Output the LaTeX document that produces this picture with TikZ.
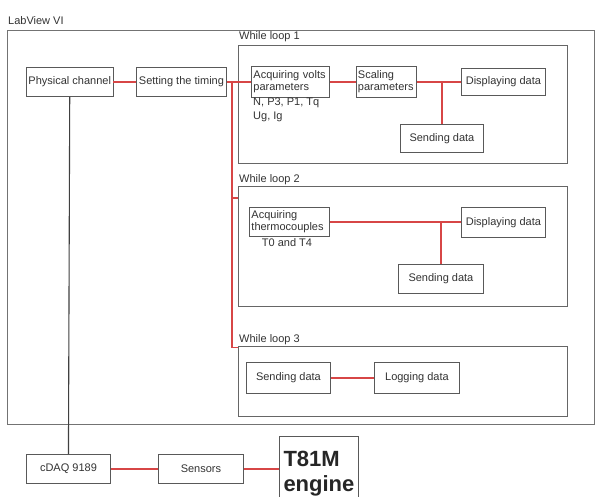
\documentclass[tikz,border=0pt]{standalone}
\usepackage{fontspec}
\setmainfont{Liberation Sans}
\usetikzlibrary{calc}
\begin{document}
\begin{tikzpicture}[x=1pt,y=-1pt,
  box/.style={draw=black!65, line width=0.9pt, inner sep=2pt, anchor=north west,
    font=\fontsize{11}{12}\selectfont, text=black!80},
  loopbox/.style={draw=black!60, line width=1pt, anchor=north west, inner sep=0pt},
  lbl/.style={anchor=west, inner sep=0pt, font=\fontsize{11}{12}\selectfont, text=black!80},
  wire/.style={draw={rgb,255:red,215;green,70;blue,70}, line width=1.2pt},
  bwire/.style={draw=black!75, line width=1.1pt}]
\useasboundingbox (0,0) rectangle (596,496);
\clip (0,0) rectangle (596,496);
\fill[white] (0,0) rectangle (596,496);

% outer LabView VI frame
\node[loopbox, draw=black!55, line width=1.3pt, minimum width=587pt, minimum height=394pt] (vi) at (7,30) {};
\node[lbl] (vilbl) at (8,21) {LabView VI};

% while loops
\node[loopbox, minimum width=329pt, minimum height=118pt] (loop1) at (238,45) {};
\node[lbl] (l1lbl) at (239,37) {While loop 1};
\node[loopbox, minimum width=329pt, minimum height=120pt] (loop2) at (238,186) {};
\node[lbl] (l2lbl) at (239,180) {While loop 2};
\node[loopbox, minimum width=329pt, minimum height=70pt] (loop3) at (238,346) {};
\node[lbl] (l3lbl) at (239,340) {While loop 3};

% left chain
\node[box, minimum width=84pt, minimum height=29pt] (phys) at (26,67) {Physical channel};
\node[box, minimum width=90pt, minimum height=29pt] (timing) at (136,67) {Setting the timing};

% loop 1
\node[box, text width=74pt, minimum height=31pt, align=left] (acqv) at (251,66) {Acquiring volts\\parameters};
\node[lbl, anchor=north west, align=left, font=\fontsize{11}{14}\selectfont] (acqvt) at (253,98) {N, P3, P1, Tq\\Ug, Ig};
\node[box, text width=57pt, inner xsep=1.5pt, minimum height=31pt, align=left] (scal) at (356,66) {Scaling\\parameters};
\node[box, minimum width=84pt, minimum height=27pt] (disp1) at (461,68) {Displaying data};
\node[box, minimum width=83pt, minimum height=28pt] (send1) at (400,124) {Sending data};

% loop 2
\node[box, text width=76pt, minimum height=29pt, align=left] (acqt) at (249,207) {Acquiring\\thermocouples};
\node[lbl, anchor=center] (acqtt) at (287,243) {T0 and T4};
\node[box, minimum width=84pt, minimum height=30pt] (disp2) at (461,207) {Displaying data};
\node[box, minimum width=85pt, minimum height=29pt] (send2) at (398,264) {Sending data};

% loop 3
\node[box, minimum width=84pt, minimum height=31pt] (send3) at (246,362) {Sending data};
\node[box, minimum width=85pt, minimum height=31pt] (logd) at (374,362) {Logging data};

% hardware
\node[box, minimum width=84pt, minimum height=29pt] (cdaq) at (26,454) {cDAQ 9189};
\node[box, minimum width=85pt, minimum height=29pt] (sens) at (158,454) {Sensors};
\node[box, minimum width=79pt, minimum height=74pt, font=\fontsize{22}{25}\selectfont\bfseries, text=black!85, align=left, inner xsep=4pt] (eng) at (279,436) {T81M\\engine};

% connectors
\draw[wire] (phys.east) -- (timing.west);
\draw[wire] (timing.east |- acqv.west) -- (acqv.west);
\coordinate (b0) at (232,81.5);
\draw[wire] (b0) |- ($(loop3.north west)+(0,1.5)$);
\draw[wire] (b0 |- 0,198) -- (loop2.west |- 0,198);
\draw[wire] (acqv.east) -- (scal.west |- acqv.east);
\draw[wire] (scal.east |- acqv.east) -- (disp1.west |- acqv.east);
\draw[wire] (send1.north) -- (send1.north |- acqv.east);
\draw[wire] (acqt.east) -- (disp2.west |- acqt.east);
\draw[wire] (send2.north) -- (send2.north |- acqt.east);
\draw[wire] (send3.east) -- (logd.west);
\draw[bwire] (phys.south) -- (cdaq.north);
\draw[wire] (cdaq.east) -- (sens.west);
\draw[wire] (sens.east) -- (eng.west |- sens.east);
\end{tikzpicture}
\end{document}
